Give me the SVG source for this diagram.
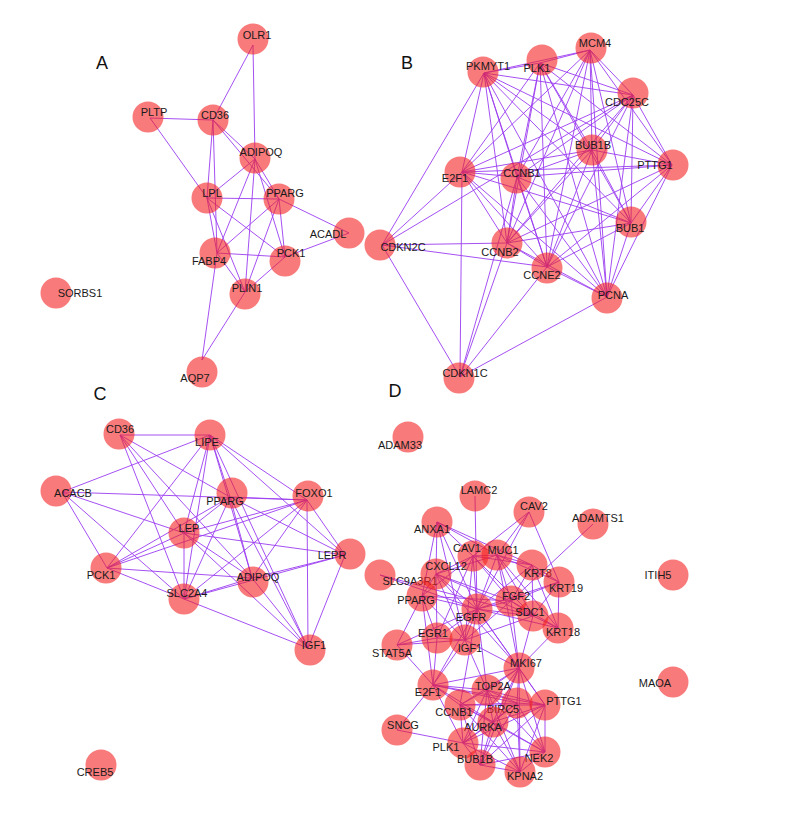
<svg xmlns="http://www.w3.org/2000/svg" width="785" height="816" viewBox="0 0 785 816">
<style>
.e line{stroke:#9b3cf0;stroke-width:0.9;fill:none}
.n circle{fill:#f32121;fill-opacity:0.6}
.n text,.t{font-family:"Liberation Sans",Arial,sans-serif;font-size:11px;fill:#1a1a1a;text-anchor:middle}
.p{font-family:"Liberation Sans",Arial,sans-serif;font-size:18px;fill:#111;text-anchor:middle}
</style>
<rect width="785" height="816" fill="#fff"/>
<g id="connectors" class="e">
<g id="edges-A">
<line x1="253" y1="45" x2="213" y2="120"/><line x1="253" y1="45" x2="255" y2="159"/>
<line x1="150" y1="118" x2="213" y2="120"/><line x1="150" y1="118" x2="207" y2="198"/>
<line x1="213" y1="120" x2="255" y2="159"/><line x1="213" y1="120" x2="279" y2="199"/>
<line x1="213" y1="120" x2="207" y2="198"/><line x1="213" y1="120" x2="217" y2="253"/>
<line x1="255" y1="159" x2="207" y2="198"/><line x1="255" y1="159" x2="279" y2="199"/>
<line x1="255" y1="159" x2="217" y2="253"/><line x1="255" y1="159" x2="245" y2="292"/>
<line x1="255" y1="159" x2="285" y2="257"/><line x1="207" y1="198" x2="279" y2="199"/>
<line x1="207" y1="198" x2="217" y2="253"/><line x1="207" y1="198" x2="285" y2="257"/>
<line x1="207" y1="198" x2="245" y2="292"/><line x1="279" y1="199" x2="349" y2="233"/>
<line x1="279" y1="199" x2="217" y2="253"/><line x1="279" y1="199" x2="285" y2="257"/>
<line x1="279" y1="199" x2="245" y2="292"/><line x1="349" y1="233" x2="285" y2="257"/>
<line x1="217" y1="253" x2="285" y2="257"/><line x1="217" y1="253" x2="245" y2="292"/>
<line x1="217" y1="253" x2="202" y2="360"/><line x1="285" y1="257" x2="245" y2="292"/>
<line x1="245" y1="292" x2="202" y2="360"/>
</g>
<g id="edges-B">
<line x1="590" y1="50" x2="540" y2="63"/><line x1="590" y1="50" x2="484" y2="73"/><line x1="590" y1="50" x2="633" y2="95"/><line x1="590" y1="50" x2="592" y2="150"/><line x1="590" y1="50" x2="672" y2="165"/><line x1="590" y1="50" x2="462" y2="172"/><line x1="590" y1="50" x2="517" y2="177"/><line x1="590" y1="50" x2="631" y2="223"/><line x1="590" y1="50" x2="507" y2="243"/><line x1="590" y1="50" x2="547" y2="267"/><line x1="590" y1="50" x2="607" y2="297"/>
<line x1="540" y1="63" x2="484" y2="73"/><line x1="540" y1="63" x2="633" y2="95"/><line x1="540" y1="63" x2="592" y2="150"/><line x1="540" y1="63" x2="672" y2="165"/><line x1="540" y1="63" x2="462" y2="172"/><line x1="540" y1="63" x2="517" y2="177"/><line x1="540" y1="63" x2="631" y2="223"/><line x1="540" y1="63" x2="507" y2="243"/><line x1="540" y1="63" x2="547" y2="267"/><line x1="540" y1="63" x2="607" y2="297"/>
<line x1="484" y1="73" x2="633" y2="95"/><line x1="484" y1="73" x2="592" y2="150"/><line x1="484" y1="73" x2="672" y2="165"/><line x1="484" y1="73" x2="462" y2="172"/><line x1="484" y1="73" x2="517" y2="177"/><line x1="484" y1="73" x2="631" y2="223"/><line x1="484" y1="73" x2="507" y2="243"/><line x1="484" y1="73" x2="547" y2="267"/><line x1="484" y1="73" x2="607" y2="297"/>
<line x1="633" y1="95" x2="592" y2="150"/><line x1="633" y1="95" x2="672" y2="165"/><line x1="633" y1="95" x2="462" y2="172"/><line x1="633" y1="95" x2="517" y2="177"/><line x1="633" y1="95" x2="631" y2="223"/><line x1="633" y1="95" x2="507" y2="243"/><line x1="633" y1="95" x2="547" y2="267"/><line x1="633" y1="95" x2="607" y2="297"/>
<line x1="592" y1="150" x2="672" y2="165"/><line x1="592" y1="150" x2="462" y2="172"/><line x1="592" y1="150" x2="517" y2="177"/><line x1="592" y1="150" x2="631" y2="223"/><line x1="592" y1="150" x2="507" y2="243"/><line x1="592" y1="150" x2="547" y2="267"/><line x1="592" y1="150" x2="607" y2="297"/>
<line x1="672" y1="165" x2="462" y2="172"/><line x1="672" y1="165" x2="517" y2="177"/><line x1="672" y1="165" x2="631" y2="223"/><line x1="672" y1="165" x2="507" y2="243"/><line x1="672" y1="165" x2="547" y2="267"/><line x1="672" y1="165" x2="607" y2="297"/>
<line x1="462" y1="172" x2="517" y2="177"/><line x1="462" y1="172" x2="631" y2="223"/><line x1="462" y1="172" x2="507" y2="243"/><line x1="462" y1="172" x2="547" y2="267"/><line x1="462" y1="172" x2="607" y2="297"/>
<line x1="517" y1="177" x2="631" y2="223"/><line x1="517" y1="177" x2="507" y2="243"/><line x1="517" y1="177" x2="547" y2="267"/><line x1="517" y1="177" x2="607" y2="297"/>
<line x1="631" y1="223" x2="507" y2="243"/><line x1="631" y1="223" x2="547" y2="267"/><line x1="631" y1="223" x2="607" y2="297"/>
<line x1="507" y1="243" x2="547" y2="267"/><line x1="507" y1="243" x2="607" y2="297"/>
<line x1="547" y1="267" x2="607" y2="297"/>
<line x1="382" y1="245" x2="484" y2="73"/><line x1="382" y1="245" x2="462" y2="172"/><line x1="382" y1="245" x2="633" y2="95"/><line x1="382" y1="245" x2="507" y2="243"/><line x1="382" y1="245" x2="547" y2="267"/><line x1="382" y1="245" x2="460" y2="377"/>
<line x1="460" y1="377" x2="462" y2="172"/><line x1="460" y1="377" x2="517" y2="177"/><line x1="460" y1="377" x2="507" y2="243"/><line x1="460" y1="377" x2="547" y2="267"/><line x1="460" y1="377" x2="607" y2="297"/>
</g>
<g id="edges-C">
<line x1="120" y1="435" x2="210" y2="435"/><line x1="120" y1="435" x2="230" y2="497"/><line x1="120" y1="435" x2="184" y2="533"/><line x1="120" y1="435" x2="184" y2="599"/><line x1="120" y1="435" x2="252" y2="578"/>
<line x1="210" y1="435" x2="62" y2="492"/><line x1="210" y1="435" x2="230" y2="497"/><line x1="210" y1="435" x2="307" y2="500"/><line x1="210" y1="435" x2="345" y2="555"/><line x1="210" y1="435" x2="184" y2="533"/><line x1="210" y1="435" x2="107" y2="568"/><line x1="210" y1="435" x2="184" y2="599"/><line x1="210" y1="435" x2="252" y2="578"/><line x1="210" y1="435" x2="308" y2="648"/>
<line x1="62" y1="492" x2="307" y2="500"/><line x1="62" y1="492" x2="107" y2="568"/><line x1="62" y1="492" x2="184" y2="533"/><line x1="62" y1="492" x2="184" y2="599"/>
<line x1="230" y1="497" x2="307" y2="500"/><line x1="230" y1="497" x2="184" y2="533"/><line x1="230" y1="497" x2="107" y2="568"/><line x1="230" y1="497" x2="184" y2="599"/><line x1="230" y1="497" x2="252" y2="578"/><line x1="230" y1="497" x2="345" y2="555"/><line x1="230" y1="497" x2="308" y2="648"/>
<line x1="307" y1="500" x2="184" y2="533"/><line x1="307" y1="500" x2="107" y2="568"/><line x1="307" y1="500" x2="184" y2="599"/><line x1="307" y1="500" x2="252" y2="578"/><line x1="307" y1="500" x2="345" y2="555"/><line x1="307" y1="500" x2="308" y2="648"/>
<line x1="184" y1="533" x2="345" y2="555"/><line x1="184" y1="533" x2="107" y2="568"/><line x1="184" y1="533" x2="184" y2="599"/><line x1="184" y1="533" x2="252" y2="578"/><line x1="184" y1="533" x2="308" y2="648"/>
<line x1="345" y1="555" x2="252" y2="578"/><line x1="345" y1="555" x2="184" y2="599"/><line x1="345" y1="555" x2="308" y2="648"/>
<line x1="107" y1="568" x2="184" y2="599"/><line x1="107" y1="568" x2="252" y2="578"/>
<line x1="252" y1="578" x2="184" y2="599"/><line x1="252" y1="578" x2="308" y2="648"/>
<line x1="184" y1="599" x2="308" y2="648"/>
</g>
<g id="edges-D">
<line x1="475" y1="496" x2="477" y2="609"/>
<line x1="529" y1="512" x2="473" y2="556"/><line x1="529" y1="512" x2="497" y2="555"/><line x1="529" y1="512" x2="559" y2="582"/><line x1="529" y1="512" x2="477" y2="609"/>
<line x1="593" y1="524" x2="511" y2="601"/>
<line x1="437" y1="522" x2="473" y2="556"/><line x1="437" y1="522" x2="497" y2="555"/><line x1="437" y1="522" x2="436" y2="574"/><line x1="437" y1="522" x2="422" y2="596"/><line x1="437" y1="522" x2="477" y2="609"/><line x1="437" y1="522" x2="532" y2="565"/><line x1="437" y1="522" x2="465" y2="640"/>
<line x1="473" y1="556" x2="497" y2="555"/><line x1="473" y1="556" x2="436" y2="574"/><line x1="473" y1="556" x2="477" y2="609"/><line x1="473" y1="556" x2="422" y2="596"/><line x1="473" y1="556" x2="532" y2="565"/><line x1="473" y1="556" x2="511" y2="601"/><line x1="473" y1="556" x2="465" y2="640"/><line x1="473" y1="556" x2="437" y2="638"/><line x1="473" y1="556" x2="533" y2="616"/>
<line x1="497" y1="555" x2="532" y2="565"/><line x1="497" y1="555" x2="559" y2="582"/><line x1="497" y1="555" x2="558" y2="628"/><line x1="497" y1="555" x2="477" y2="609"/><line x1="497" y1="555" x2="533" y2="616"/><line x1="497" y1="555" x2="511" y2="601"/><line x1="497" y1="555" x2="436" y2="574"/><line x1="497" y1="555" x2="519" y2="668"/>
<line x1="532" y1="565" x2="559" y2="582"/><line x1="532" y1="565" x2="558" y2="628"/><line x1="532" y1="565" x2="477" y2="609"/><line x1="532" y1="565" x2="533" y2="616"/><line x1="532" y1="565" x2="511" y2="601"/>
<line x1="559" y1="582" x2="558" y2="628"/><line x1="559" y1="582" x2="477" y2="609"/><line x1="559" y1="582" x2="511" y2="601"/><line x1="559" y1="582" x2="533" y2="616"/>
<line x1="380" y1="575" x2="477" y2="609"/><line x1="380" y1="575" x2="533" y2="616"/>
<line x1="436" y1="574" x2="422" y2="596"/><line x1="436" y1="574" x2="477" y2="609"/><line x1="436" y1="574" x2="465" y2="640"/><line x1="436" y1="574" x2="511" y2="601"/><line x1="436" y1="574" x2="437" y2="638"/><line x1="436" y1="574" x2="533" y2="616"/><line x1="436" y1="574" x2="519" y2="668"/>
<line x1="422" y1="596" x2="477" y2="609"/><line x1="422" y1="596" x2="437" y2="638"/><line x1="422" y1="596" x2="465" y2="640"/><line x1="422" y1="596" x2="397" y2="645"/><line x1="422" y1="596" x2="433" y2="685"/><line x1="422" y1="596" x2="511" y2="601"/>
<line x1="511" y1="601" x2="533" y2="616"/><line x1="511" y1="601" x2="477" y2="609"/><line x1="511" y1="601" x2="558" y2="628"/><line x1="511" y1="601" x2="465" y2="640"/><line x1="511" y1="601" x2="519" y2="668"/>
<line x1="533" y1="616" x2="477" y2="609"/><line x1="533" y1="616" x2="558" y2="628"/><line x1="533" y1="616" x2="519" y2="668"/><line x1="533" y1="616" x2="465" y2="640"/>
<line x1="477" y1="609" x2="437" y2="638"/><line x1="477" y1="609" x2="465" y2="640"/><line x1="477" y1="609" x2="397" y2="645"/><line x1="477" y1="609" x2="519" y2="668"/><line x1="477" y1="609" x2="433" y2="685"/><line x1="477" y1="609" x2="487" y2="690"/><line x1="477" y1="609" x2="558" y2="628"/><line x1="477" y1="609" x2="460" y2="705"/><line x1="477" y1="609" x2="545" y2="705"/>
<line x1="558" y1="628" x2="519" y2="668"/>
<line x1="437" y1="638" x2="465" y2="640"/><line x1="437" y1="638" x2="397" y2="645"/><line x1="437" y1="638" x2="433" y2="685"/>
<line x1="465" y1="640" x2="397" y2="645"/><line x1="465" y1="640" x2="433" y2="685"/><line x1="465" y1="640" x2="519" y2="668"/><line x1="465" y1="640" x2="487" y2="690"/>
<line x1="397" y1="645" x2="433" y2="685"/>
<line x1="519" y1="668" x2="433" y2="685"/><line x1="519" y1="668" x2="487" y2="690"/><line x1="519" y1="668" x2="545" y2="705"/><line x1="519" y1="668" x2="517" y2="703"/><line x1="519" y1="668" x2="460" y2="705"/><line x1="519" y1="668" x2="493" y2="722"/><line x1="519" y1="668" x2="463" y2="743"/><line x1="519" y1="668" x2="480" y2="765"/><line x1="519" y1="668" x2="545" y2="752"/><line x1="519" y1="668" x2="520" y2="772"/>
<line x1="433" y1="685" x2="460" y2="705"/><line x1="433" y1="685" x2="487" y2="690"/><line x1="433" y1="685" x2="517" y2="703"/><line x1="433" y1="685" x2="463" y2="743"/><line x1="433" y1="685" x2="397" y2="730"/><line x1="433" y1="685" x2="493" y2="722"/><line x1="433" y1="685" x2="545" y2="705"/>
<line x1="487" y1="690" x2="545" y2="705"/><line x1="487" y1="690" x2="517" y2="703"/><line x1="487" y1="690" x2="460" y2="705"/><line x1="487" y1="690" x2="493" y2="722"/><line x1="487" y1="690" x2="463" y2="743"/><line x1="487" y1="690" x2="545" y2="752"/><line x1="487" y1="690" x2="480" y2="765"/><line x1="487" y1="690" x2="520" y2="772"/>
<line x1="545" y1="705" x2="517" y2="703"/><line x1="545" y1="705" x2="460" y2="705"/><line x1="545" y1="705" x2="493" y2="722"/><line x1="545" y1="705" x2="463" y2="743"/><line x1="545" y1="705" x2="545" y2="752"/><line x1="545" y1="705" x2="480" y2="765"/><line x1="545" y1="705" x2="520" y2="772"/>
<line x1="517" y1="703" x2="460" y2="705"/><line x1="517" y1="703" x2="493" y2="722"/><line x1="517" y1="703" x2="463" y2="743"/><line x1="517" y1="703" x2="545" y2="752"/><line x1="517" y1="703" x2="480" y2="765"/><line x1="517" y1="703" x2="520" y2="772"/>
<line x1="460" y1="705" x2="493" y2="722"/><line x1="460" y1="705" x2="463" y2="743"/><line x1="460" y1="705" x2="545" y2="752"/><line x1="460" y1="705" x2="480" y2="765"/><line x1="460" y1="705" x2="520" y2="772"/>
<line x1="493" y1="722" x2="463" y2="743"/><line x1="493" y1="722" x2="545" y2="752"/><line x1="493" y1="722" x2="480" y2="765"/><line x1="493" y1="722" x2="520" y2="772"/>
<line x1="463" y1="743" x2="545" y2="752"/><line x1="463" y1="743" x2="480" y2="765"/><line x1="463" y1="743" x2="520" y2="772"/>
<line x1="545" y1="752" x2="480" y2="765"/><line x1="545" y1="752" x2="520" y2="772"/>
<line x1="480" y1="765" x2="520" y2="772"/>
<line x1="397" y1="730" x2="463" y2="743"/>
</g>
</g>
<g id="panel-labels">
<text class="p" x="102" y="69">A</text>
<text class="p" x="407" y="69">B</text>
<text class="p" x="100" y="400">C</text>
<text class="p" x="395" y="397">D</text>
</g>
<g id="nodes-A">
<g id="A-OLR1" class="n"><circle cx="253" cy="39" r="15.5"/><text x="257" y="39">OLR1</text></g>
<g id="A-PLTP" class="n"><circle cx="148" cy="117" r="15.5"/><text x="154" y="116">PLTP</text></g>
<g id="A-CD36" class="n"><circle cx="213" cy="120" r="15.5"/><text x="215" y="119">CD36</text></g>
<g id="A-ADIPOQ" class="n"><circle cx="255" cy="158" r="15.5"/><text x="261" y="156">ADIPOQ</text></g>
<g id="A-LPL" class="n"><circle cx="207" cy="198" r="15.5"/><text x="212" y="197">LPL</text></g>
<g id="A-PPARG" class="n"><circle cx="279" cy="199" r="15.5"/><text x="285" y="197">PPARG</text></g>
<g id="A-ACADL" class="n"><circle cx="349" cy="233" r="15.5"/><text x="328" y="238">ACADL</text></g>
<g id="A-FABP4" class="n"><circle cx="215" cy="253" r="15.5"/><text x="209" y="265">FABP4</text></g>
<g id="A-PCK1" class="n"><circle cx="285" cy="261" r="15.5"/><text x="291" y="257">PCK1</text></g>
<g id="A-PLIN1" class="n"><circle cx="245" cy="294" r="15.5"/><text x="247" y="292">PLIN1</text></g>
<g id="A-AQP7" class="n"><circle cx="202" cy="372" r="15.5"/><text x="195" y="382">AQP7</text></g>
<g id="A-SORBS1" class="n"><circle cx="56" cy="293" r="15.5"/><text x="80" y="297">SORBS1</text></g>
</g>
<g id="nodes-B">
<g id="B-MCM4" class="n"><circle cx="591" cy="48" r="15.5"/><text x="595" y="47">MCM4</text></g>
<g id="B-PLK1" class="n"><circle cx="542" cy="60" r="15.5"/><text x="537" y="72">PLK1</text></g>
<g id="B-PKMYT1" class="n"><circle cx="483" cy="72" r="15.5"/><text x="488" y="70">PKMYT1</text></g>
<g id="B-CDC25C" class="n"><circle cx="633" cy="93" r="15.5"/><text x="627" y="106">CDC25C</text></g>
<g id="B-BUB1B" class="n"><circle cx="592" cy="150" r="15.5"/><text x="593" y="149">BUB1B</text></g>
<g id="B-PTTG1" class="n"><circle cx="673" cy="165" r="15.5"/><text x="655" y="169">PTTG1</text></g>
<g id="B-E2F1" class="n"><circle cx="460" cy="172" r="15.5"/><text x="455" y="182">E2F1</text></g>
<g id="B-CCNB1" class="n"><circle cx="516" cy="178" r="15.5"/><text x="522" y="177">CCNB1</text></g>
<g id="B-BUB1" class="n"><circle cx="631" cy="222" r="15.5"/><text x="630" y="232">BUB1</text></g>
<g id="B-CDKN2C" class="n"><circle cx="380" cy="245" r="15.5"/><text x="403" y="251">CDKN2C</text></g>
<g id="B-CCNB2" class="n"><circle cx="507" cy="243" r="15.5"/><text x="500" y="256">CCNB2</text></g>
<g id="B-CCNE2" class="n"><circle cx="547" cy="268" r="15.5"/><text x="542" y="279">CCNE2</text></g>
<g id="B-PCNA" class="n"><circle cx="607" cy="298" r="15.5"/><text x="613" y="299">PCNA</text></g>
<g id="B-CDKN1C" class="n"><circle cx="459" cy="378" r="15.5"/><text x="465" y="377">CDKN1C</text></g>
</g>
<g id="nodes-C">
<g id="C-CD36" class="n"><circle cx="119" cy="434" r="15.5"/><text x="120" y="433">CD36</text></g>
<g id="C-LIPE" class="n"><circle cx="210" cy="435" r="15.5"/><text x="207" y="446">LIPE</text></g>
<g id="C-ACACB" class="n"><circle cx="56" cy="491" r="15.5"/><text x="73" y="497">ACACB</text></g>
<g id="C-PPARG" class="n"><circle cx="232" cy="493" r="15.5"/><text x="225" y="505">PPARG</text></g>
<g id="C-FOXO1" class="n"><circle cx="308" cy="496" r="15.5"/><text x="314" y="497">FOXO1</text></g>
<g id="C-LEP" class="n"><circle cx="184" cy="533" r="15.5"/><text x="189" y="532">LEP</text></g>
<g id="C-LEPR" class="n"><circle cx="350" cy="554" r="15.5"/><text x="332" y="559">LEPR</text></g>
<g id="C-PCK1" class="n"><circle cx="106" cy="568" r="15.5"/><text x="101" y="579">PCK1</text></g>
<g id="C-ADIPOQ" class="n"><circle cx="253" cy="582" r="15.5"/><text x="258" y="581">ADIPOQ</text></g>
<g id="C-SLC2A4" class="n"><circle cx="184" cy="599" r="15.5"/><text x="187" y="597">SLC2A4</text></g>
<g id="C-IGF1" class="n"><circle cx="310" cy="650" r="15.5"/><text x="314" y="649">IGF1</text></g>
<g id="C-CREB5" class="n"><circle cx="101" cy="765" r="15.5"/><text x="95" y="776">CREB5</text></g>
</g>
<g id="nodes-D">
<g id="D-ADAM33" class="n"><circle cx="408" cy="437" r="15.5"/><text x="400" y="449">ADAM33</text></g>
<g id="D-LAMC2" class="n"><circle cx="475" cy="496" r="15.5"/><text x="479" y="494">LAMC2</text></g>
<g id="D-CAV2" class="n"><circle cx="529" cy="512" r="15.5"/><text x="534" y="510">CAV2</text></g>
<g id="D-ADAMTS1" class="n"><circle cx="593" cy="524" r="15.5"/><text x="598" y="522">ADAMTS1</text></g>
<g id="D-ANXA1" class="n"><circle cx="437" cy="522" r="15.5"/><text x="432" y="533">ANXA1</text></g>
<g id="D-CAV1" class="n"><circle cx="473" cy="556" r="15.5"/><text x="467" y="552">CAV1</text></g>
<g id="D-MUC1" class="n"><circle cx="497" cy="555" r="15.5"/><text x="503" y="554">MUC1</text></g>
<g id="D-KRT8" class="n"><circle cx="532" cy="565" r="15.5"/><text x="538" y="577">KRT8</text></g>
<g id="D-KRT19" class="n"><circle cx="559" cy="582" r="15.5"/><text x="566" y="592">KRT19</text></g>
<g id="D-SLC9A3R1" class="n"><circle cx="380" cy="575" r="15.5"/><text x="410" y="585">SLC9A3R1</text></g>
<g id="D-CXCL12" class="n"><circle cx="436" cy="574" r="15.5"/><text x="446" y="570">CXCL12</text></g>
<g id="D-PPARG" class="n"><circle cx="422" cy="596" r="15.5"/><text x="416" y="604">PPARG</text></g>
<g id="D-FGF2" class="n"><circle cx="511" cy="601" r="15.5"/><text x="516" y="600">FGF2</text></g>
<g id="D-SDC1" class="n"><circle cx="533" cy="616" r="15.5"/><text x="530" y="616">SDC1</text></g>
<g id="D-EGFR" class="n"><circle cx="477" cy="609" r="15.5"/><text x="471" y="621">EGFR</text></g>
<g id="D-KRT18" class="n"><circle cx="558" cy="628" r="15.5"/><text x="563" y="636">KRT18</text></g>
<g id="D-EGR1" class="n"><circle cx="437" cy="638" r="15.5"/><text x="433" y="637">EGR1</text></g>
<g id="D-IGF1" class="n"><circle cx="465" cy="640" r="15.5"/><text x="470" y="652">IGF1</text></g>
<g id="D-STAT5A" class="n"><circle cx="397" cy="645" r="15.5"/><text x="392" y="657">STAT5A</text></g>
<g id="D-MKI67" class="n"><circle cx="519" cy="668" r="15.5"/><text x="526" y="667">MKI67</text></g>
<g id="D-E2F1" class="n"><circle cx="433" cy="685" r="15.5"/><text x="428" y="696">E2F1</text></g>
<g id="D-TOP2A" class="n"><circle cx="487" cy="690" r="15.5"/><text x="493" y="690">TOP2A</text></g>
<g id="D-PTTG1" class="n"><circle cx="545" cy="705" r="15.5"/><text x="564" y="705">PTTG1</text></g>
<g id="D-BIRC5" class="n"><circle cx="517" cy="703" r="15.5"/><text x="503" y="713">BIRC5</text></g>
<g id="D-CCNB1" class="n"><circle cx="460" cy="705" r="15.5"/><text x="454" y="716">CCNB1</text></g>
<g id="D-AURKA" class="n"><circle cx="493" cy="722" r="15.5"/><text x="483" y="731">AURKA</text></g>
<g id="D-SNCG" class="n"><circle cx="397" cy="730" r="15.5"/><text x="403" y="729">SNCG</text></g>
<g id="D-PLK1" class="n"><circle cx="463" cy="743" r="15.5"/><text x="446" y="751">PLK1</text></g>
<g id="D-NEK2" class="n"><circle cx="545" cy="752" r="15.5"/><text x="539" y="762">NEK2</text></g>
<g id="D-BUB1B" class="n"><circle cx="480" cy="765" r="15.5"/><text x="475" y="763">BUB1B</text></g>
<g id="D-KPNA2" class="n"><circle cx="520" cy="772" r="15.5"/><text x="525" y="780">KPNA2</text></g>
<g id="D-ITIH5" class="n"><circle cx="673" cy="575" r="15.5"/><text x="658" y="579">ITIH5</text></g>
<g id="D-MAOA" class="n"><circle cx="673" cy="682" r="15.5"/><text x="655" y="687">MAOA</text></g>
</g>
</svg>
